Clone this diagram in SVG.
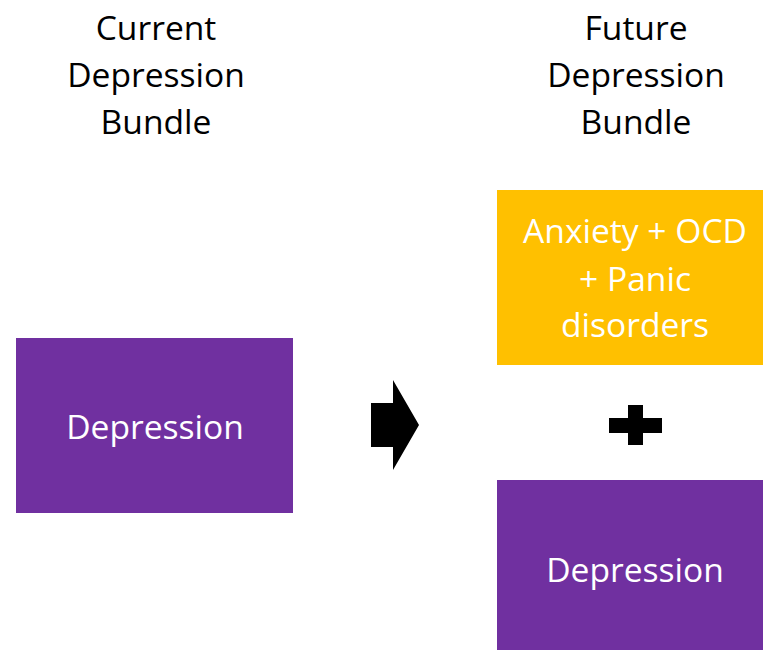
<svg xmlns="http://www.w3.org/2000/svg" width="763" height="650" viewBox="0 0 763 650">
  <style>
    .title { font-family: "Open Sans", "Noto Sans", sans-serif; font-size: 33.6px; fill: #000000; text-anchor: middle; }
    .label { font-family: "Open Sans", "Noto Sans", sans-serif; font-size: 33.6px; fill: #ffffff; text-anchor: middle; }
    .purple { fill: #7030A0; }
    .orange { fill: #FFC000; }
    .sym { fill: #000000; }
  </style>
  <rect width="763" height="650" fill="#ffffff"/>
  <g id="title-current">
    <text class="title" x="156" y="40">Current</text>
    <text class="title" x="156" y="87">Depression</text>
    <text class="title" x="156" y="134">Bundle</text>
  </g>
  <g id="title-future">
    <text class="title" x="636" y="40">Future</text>
    <text class="title" x="636" y="87">Depression</text>
    <text class="title" x="636" y="134">Bundle</text>
  </g>
  <g id="node-current-depression">
    <rect class="purple" x="16" y="338" width="277" height="175"/>
    <text class="label" x="155" y="439">Depression</text>
  </g>
  <g id="node-anxiety">
    <rect class="orange" x="497" y="190" width="276" height="175"/>
    <text class="label" x="635" y="243">Anxiety + OCD</text>
    <text class="label" x="635" y="291">+ Panic</text>
    <text class="label" x="635" y="337">disorders</text>
  </g>
  <g id="node-future-depression">
    <rect class="purple" x="497" y="480" width="276" height="175"/>
    <text class="label" x="635" y="582">Depression</text>
  </g>
  <g id="connectors">
    <polygon class="sym" points="371,403 393,403 393,380 419,425 393,470 393,447 371,447"/>
    <path class="sym" d="M628,405 H643 V418 H662 V433 H643 V445 H628 V433 H609 V418 H628 Z"/>
  </g>
</svg>
